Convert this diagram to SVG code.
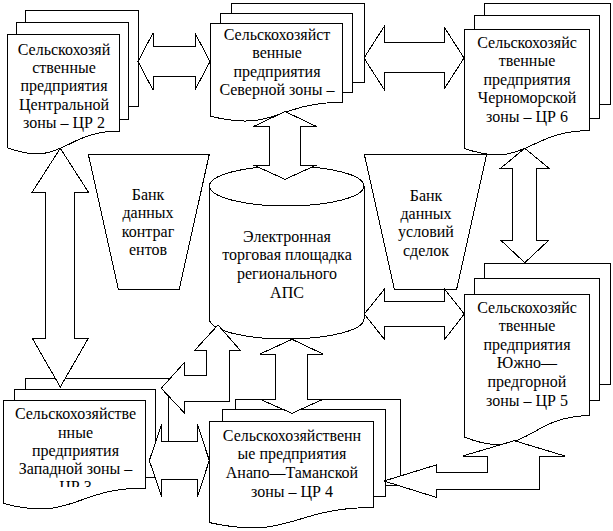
<svg xmlns="http://www.w3.org/2000/svg" width="613" height="531" viewBox="0 0 613 531">
<style>
.s{fill:#fff;stroke:#000;stroke-width:1;shape-rendering:crispEdges}
.n{fill:none;stroke:#000;stroke-width:1;shape-rendering:crispEdges}
.t{font-family:"Liberation Serif","Times New Roman",serif;font-size:16px;fill:#000;text-anchor:middle}
</style>
<defs>
<clipPath id="clip6"><rect x="0" y="395" width="170" height="92"/></clipPath>
</defs>
<rect width="613" height="531" fill="#fff"/>

<g id="bank-counterparties">
<polygon class="s" points="88.3,154.3 209.3,154.3 179.3,289 118.3,289"/>
<text class="t" x="148" y="200">Банк</text>
<text class="t" x="148" y="218.4">данных</text>
<text class="t" x="148" y="236.8">контраг</text>
<text class="t" x="148" y="255.2">ентов</text>
</g>

<g id="bank-deals">
<polygon class="s" points="364.3,154.3 486.7,154.3 456.7,289 394.3,289"/>
<text class="t" x="426" y="200.5">Банк</text>
<text class="t" x="426" y="218.9">данных</text>
<text class="t" x="426" y="237.3">условий</text>
<text class="t" x="426" y="255.7">сделок</text>
</g>

<g id="trading-platform">
<path class="s" d="M209.4,186 A77.3,20 0 0 1 364,186 V319 A77.3,20 0 0 1 209.4,319 Z"/>
<path class="n" d="M209.4,186 A77.3,20 0 0 0 364,186"/>
<text class="t" x="287" y="241.5">Электронная</text>
<text class="t" x="287" y="260.2">торговая площадка</text>
<text class="t" x="287" y="278.9">регионального</text>
<text class="t" x="287" y="297.6">АПС</text>
</g>

<g id="zone-central">
<rect class="s" x="25" y="10" width="113" height="96.6"/>
<rect class="s" x="16.3" y="22.2" width="112" height="96.9"/>
<path class="s" d="M7,34.7 H119.8 V131 C63.4,131 63.4,168 7,147.8 Z"/>
<text class="t" x="64" y="54.5">Сельскохозяй</text>
<text class="t" x="64" y="72.9">ственные</text>
<text class="t" x="64" y="91.3">предприятия</text>
<text class="t" x="64" y="109.7">Центральной</text>
<text class="t" x="64" y="128.1">зоны – ЦР 2</text>
</g>

<g id="zone-north">
<rect class="s" x="231.2" y="3" width="132.8" height="79.3"/>
<rect class="s" x="220.9" y="13" width="131.7" height="79.5"/>
<path class="s" d="M210,23.2 H342.6 V102.3 C276.3,102.3 276.3,132.7 210,116.1 Z"/>
<text class="t" x="277" y="40">Сельскохозяйст</text>
<text class="t" x="277" y="58.4">венные</text>
<text class="t" x="277" y="76.8">предприятия</text>
<text class="t" x="277" y="95.2">Северной зоны –</text>
</g>

<g id="zone-blacksea">
<rect class="s" x="484.1" y="3" width="125.9" height="101.9"/>
<rect class="s" x="474.4" y="15.9" width="124.8" height="102.2"/>
<path class="s" d="M464,29 H589.7 V130.7 C526.9,130.7 526.9,169.8 464,148.4 Z"/>
<text class="t" x="527" y="48">Сельскохозяйс</text>
<text class="t" x="527" y="66.4">твенные</text>
<text class="t" x="527" y="84.8">предприятия</text>
<text class="t" x="527" y="103.2">Черноморской</text>
<text class="t" x="527" y="121.6">зоны – ЦР 6</text>
</g>

<g id="zone-south">
<rect class="s" x="484.1" y="263" width="125.9" height="121.9"/>
<rect class="s" x="474.4" y="278.4" width="124.8" height="122.3"/>
<path class="s" d="M464,294.1 H589.7 V415.7 C526.9,415.7 526.9,462.5 464,436.9 Z"/>
<text class="t" x="527" y="312.5">Сельскохозяйс</text>
<text class="t" x="527" y="331.1">твенные</text>
<text class="t" x="527" y="349.7">предприятия</text>
<text class="t" x="527" y="368.3">Южно—</text>
<text class="t" x="527" y="386.9">предгорной</text>
<text class="t" x="527" y="405.5">зоны – ЦР 5</text>
</g>

<g id="zone-anapa">
<rect class="s" x="235.3" y="399" width="164.7" height="86.6"/>
<rect class="s" x="222.5" y="409.9" width="163.3" height="86.9"/>
<path class="s" d="M209,421.1 H373.4 V507.5 C291.2,507.5 291.2,540.7 209,522.5 Z"/>
<text class="t" x="292" y="440.5">Сельскохозяйственн</text>
<text class="t" x="292" y="459.2">ые предприятия</text>
<text class="t" x="292" y="477.9">Анапо—Таманской</text>
<text class="t" x="292" y="496.6">зоны – ЦР 4</text>
</g>

<g id="zone-west">
<rect class="s" x="25.7" y="378" width="142.3" height="88"/>
<rect class="s" x="14.7" y="389.1" width="141.1" height="88.2"/>
<path class="s" d="M3,400.5 H145 V488.1 C74,488.1 74,521.9 3,503.4 Z"/>
<g clip-path="url(#clip6)">
<text class="t" x="75.5" y="419.3">Сельскохозяйстве</text>
<text class="t" x="75.5" y="437.5">нные</text>
<text class="t" x="75.5" y="455.7">предприятия</text>
<text class="t" x="75.5" y="473.9">Западной зоны –</text>
<text class="t" x="75.5" y="492.1">ЦР 3</text>
</g>
</g>

<g id="connectors">
<polygon class="s" points="138,61.5 153,33 153,46.8 195,46.8 195,33 210,61.5 195,90 195,76.2 153,76.2 153,90"/>
<polygon class="s" points="364,58 384,26.7 384,42.2 444,42.2 444,26.7 464,58 444,89.3 444,72.8 384,72.8 384,89.3"/>
<polygon class="s" points="285,111.5 316.5,126.5 300.3,126.5 300.3,165 316.5,165 285,179.3 253.5,165 269.7,165 269.7,126.5 253.5,126.5"/>
<polygon class="s" points="60.3,148.3 88.3,192 74,192 74,338.3 88.3,338.3 60.3,387 32.3,338.3 45.7,338.3 45.7,192 32.3,192"/>
<polygon class="s" points="524.8,148.3 549,168.3 536.7,168.3 536.7,240 549,240 524.8,262.7 500.5,240 512.3,240 512.3,168.3 500.5,168.3"/>
<polygon class="s" points="364.3,314 384.3,289.3 384.3,301 444.7,301 444.7,289.3 464.3,314 444.7,339.3 444.7,326.7 384.3,326.7 384.3,339.3"/>
<polygon class="s" points="149.3,460.5 161.7,424.5 161.7,441.7 197.5,441.7 197.5,424.5 209.3,460.5 197.5,496.7 197.5,479.3 161.7,479.3 161.7,496.7"/>
<polygon class="s" points="292,339.3 323,354 307.7,354 307.7,399.3 323,399.3 292,413.3 260,399.3 275.7,399.3 275.7,354 260,354"/>
<polygon class="s" points="218,325 240,350 229.3,350 229.3,401.7 184,401.7 184,412.5 161.2,388.3 184,363 184,375 206,375 206,350 195,350"/>
<polygon class="s" points="514.3,440.7 565,456 539.3,456 539.3,489.3 436,489.3 436,497.3 384,481 436,465 436,472.7 487.3,472.7 487.3,456 462.7,456"/>
</g>
</svg>
